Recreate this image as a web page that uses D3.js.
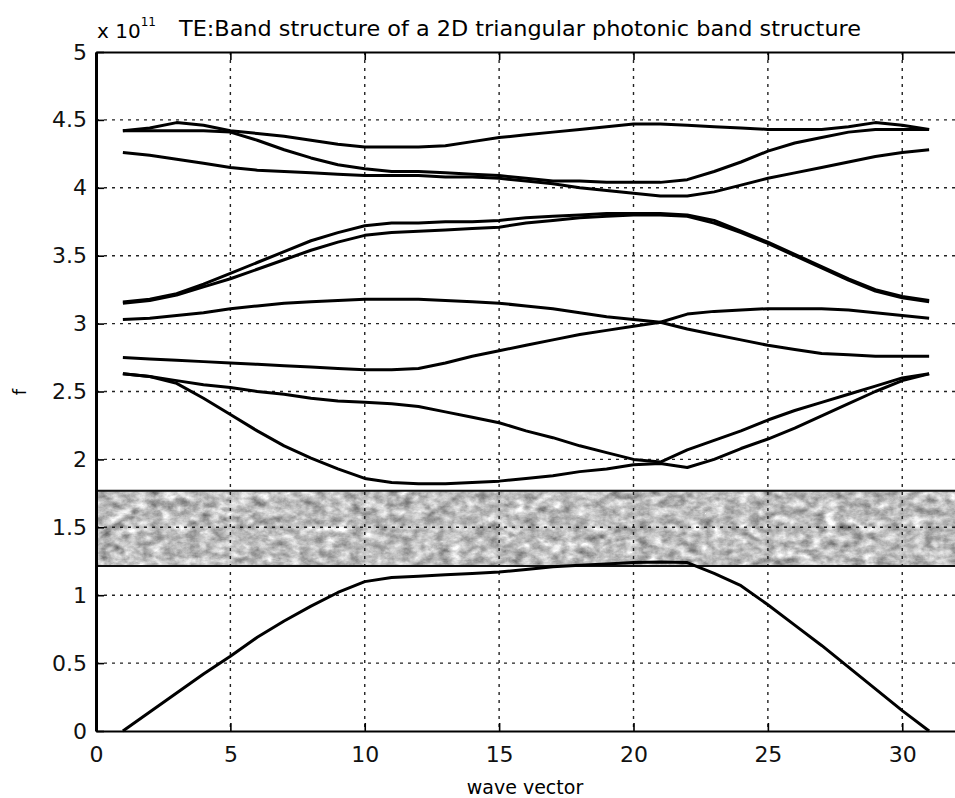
<!DOCTYPE html>
<html>
<head>
<meta charset="utf-8">
<script src="https://cdn.jsdelivr.net/npm/d3@7"></script>
<style>
body { margin: 0; background: #fff; }
svg { display: block; font-family: "DejaVu Sans", Arial, sans-serif; }
</style>
</head>
<body>
<svg id="band-graph" width="955" height="798"></svg>
<script>
// wave vector index (k points) and the 10 TE bands, f in units of 1e11
const waveVector = [1,2,3,4,5,6,7,8,9,10,11,12,13,14,15,16,17,18,19,20,21,22,23,24,25,26,27,28,29,30,31];

const band1  = [0, 0.14, 0.28, 0.42, 0.55, 0.69, 0.81, 0.92, 1.02, 1.10, 1.13, 1.14, 1.15, 1.16, 1.17, 1.19, 1.21, 1.22, 1.23, 1.24, 1.245, 1.24, 1.16, 1.07, 0.93, 0.78, 0.63, 0.47, 0.31, 0.15, 0];
const band2  = [2.63, 2.61, 2.56, 2.45, 2.33, 2.21, 2.10, 2.01, 1.93, 1.86, 1.83, 1.82, 1.82, 1.83, 1.84, 1.86, 1.88, 1.91, 1.93, 1.96, 1.97, 1.94, 2.00, 2.08, 2.15, 2.23, 2.32, 2.41, 2.50, 2.58, 2.63];
const band3  = [2.63, 2.61, 2.58, 2.55, 2.53, 2.50, 2.48, 2.45, 2.43, 2.42, 2.41, 2.39, 2.35, 2.31, 2.27, 2.21, 2.16, 2.10, 2.05, 2.00, 1.98, 2.07, 2.14, 2.21, 2.29, 2.36, 2.42, 2.48, 2.54, 2.60, 2.63];
const band4  = [2.75, 2.74, 2.73, 2.72, 2.71, 2.70, 2.69, 2.68, 2.67, 2.66, 2.66, 2.67, 2.71, 2.76, 2.80, 2.84, 2.88, 2.92, 2.95, 2.98, 3.01, 2.96, 2.92, 2.88, 2.84, 2.81, 2.78, 2.77, 2.76, 2.76, 2.76];
const band5  = [3.03, 3.04, 3.06, 3.08, 3.11, 3.13, 3.15, 3.16, 3.17, 3.18, 3.18, 3.18, 3.17, 3.16, 3.15, 3.13, 3.11, 3.08, 3.05, 3.03, 3.01, 3.07, 3.09, 3.10, 3.11, 3.11, 3.11, 3.10, 3.08, 3.06, 3.04];
const band6  = [3.15, 3.17, 3.21, 3.27, 3.33, 3.40, 3.47, 3.54, 3.60, 3.65, 3.67, 3.68, 3.69, 3.70, 3.71, 3.74, 3.76, 3.78, 3.79, 3.80, 3.80, 3.79, 3.74, 3.67, 3.59, 3.50, 3.41, 3.32, 3.24, 3.19, 3.16];
const band7  = [3.16, 3.18, 3.22, 3.29, 3.37, 3.45, 3.53, 3.61, 3.67, 3.72, 3.74, 3.74, 3.75, 3.75, 3.76, 3.78, 3.79, 3.80, 3.81, 3.81, 3.81, 3.80, 3.76, 3.68, 3.60, 3.51, 3.42, 3.33, 3.25, 3.20, 3.17];
const band8  = [4.26, 4.24, 4.21, 4.18, 4.15, 4.13, 4.12, 4.11, 4.10, 4.09, 4.09, 4.09, 4.08, 4.08, 4.07, 4.05, 4.03, 4.00, 3.98, 3.96, 3.94, 3.94, 3.97, 4.02, 4.07, 4.11, 4.15, 4.19, 4.23, 4.26, 4.28];
const band9  = [4.42, 4.42, 4.42, 4.42, 4.41, 4.35, 4.28, 4.22, 4.17, 4.14, 4.12, 4.12, 4.11, 4.10, 4.09, 4.07, 4.05, 4.05, 4.04, 4.04, 4.04, 4.06, 4.12, 4.19, 4.27, 4.33, 4.37, 4.41, 4.43, 4.43, 4.43];
const band10 = [4.42, 4.44, 4.48, 4.46, 4.42, 4.40, 4.38, 4.35, 4.32, 4.30, 4.30, 4.30, 4.31, 4.34, 4.37, 4.39, 4.41, 4.43, 4.45, 4.47, 4.47, 4.46, 4.45, 4.44, 4.43, 4.43, 4.43, 4.45, 4.48, 4.46, 4.43];

// photonic band gap (shaded strip)
const gapEdges = [1.215, 1.77];

const xTicks = [0, 5, 10, 15, 20, 25, 30];
const yTicks = [0, 0.5, 1, 1.5, 2, 2.5, 3, 3.5, 4, 4.5, 5];
const yTickLabels = ["0", "0.5", "1", "1.5", "2", "2.5", "3", "3.5", "4", "4.5", "5"];

const bands = [band1, band2, band3, band4, band5, band6, band7, band8, band9, band10];

const svg = d3.select('#band-graph');
const plotLeft = 96, plotTop = 52, plotRight = 956, plotBottom = 731;

const x = d3.scaleLinear().domain([0, 32]).range([plotLeft, plotRight]);
const y = d3.scaleLinear().domain([0, 5]).range([plotBottom, plotTop]);

// grainy fill for the gap strip
const defs = svg.append("defs");
const grain = defs.append("filter").attr("id", "grain")
    .attr("x", 0).attr("y", 0).attr("width", "100%").attr("height", "100%")
    .attr("color-interpolation-filters", "sRGB");
grain.append("feTurbulence").attr("type", "fractalNoise")
    .attr("baseFrequency", "0.08 0.12").attr("numOctaves", 5).attr("seed", 11);
grain.append("feColorMatrix").attr("type", "matrix")
    .attr("values", "0.42 0.42 0.42 0 0.11  0.42 0.42 0.42 0 0.11  0.42 0.42 0.42 0 0.11  0 0 0 0 1");

svg.append("rect")
    .attr("x", x(0)).attr("width", x(32) - x(0))
    .attr("y", y(gapEdges[1])).attr("height", y(gapEdges[0]) - y(gapEdges[1]))
    .attr("fill", "#bbb")
    .attr("filter", "url(#grain)");

// dotted grid
const grid = svg.append("g")
    .attr("stroke", "#222").attr("stroke-width", 1.4).attr("stroke-dasharray", "3,5");
grid.selectAll("line.gx")
    .data(xTicks.slice(1))
    .enter().append("line")
    .attr("x1", d => x(d)).attr("x2", d => x(d))
    .attr("y1", y(5)).attr("y2", y(0));
grid.selectAll("line.gy")
    .data(yTicks.slice(1, -1))
    .enter().append("line")
    .attr("x1", x(0)).attr("x2", x(32))
    .attr("y1", d => y(d)).attr("y2", d => y(d));

// gap edges
svg.selectAll("line.edge")
    .data(gapEdges)
    .enter().append("line")
    .attr("x1", x(0)).attr("x2", x(32))
    .attr("y1", d => y(d)).attr("y2", d => y(d))
    .attr("stroke", "#111").attr("stroke-width", 2);

// band curves
const line = d3.line()
    .x((d, i) => x(waveVector[i]))
    .y(d => y(d));
svg.append("g").selectAll("path")
    .data(bands)
    .enter().append("path")
    .attr("d", line)
    .attr("fill", "none")
    .attr("stroke", "#000")
    .attr("stroke-width", 3)
    .attr("stroke-linejoin", "round");

// axes (ticks pointing inward, MATLAB style)
const xAxis = svg.append("g")
    .attr("transform", "translate(0," + y(0) + ")")
    .call(d3.axisBottom(x).tickValues(xTicks).tickSizeInner(-8).tickSizeOuter(0).tickPadding(15));
const topAxis = svg.append("g")
    .attr("transform", "translate(0," + y(5) + ")")
    .call(d3.axisTop(x).tickValues(xTicks).tickSizeInner(-8).tickSizeOuter(0).tickFormat(""));
const yAxis = svg.append("g")
    .attr("transform", "translate(" + x(0) + ",0)")
    .call(d3.axisLeft(y).tickValues(yTicks).tickSizeInner(-8).tickSizeOuter(0).tickPadding(9)
        .tickFormat((d, i) => yTickLabels[i]));

[xAxis, topAxis, yAxis].forEach(function(g) {
    g.select(".domain").attr("stroke", "#000").attr("stroke-width", 2.2);
    g.selectAll(".tick line").attr("stroke", "#000").attr("stroke-width", 1.6);
    g.selectAll(".tick text").attr("fill", "#111").style("font-size", "22px")
        .style("font-family", "'DejaVu Sans', Arial, sans-serif");
});
yAxis.select(".domain").attr("stroke-width", 3);

// title and exponent
svg.append("text")
    .attr("x", 520).attr("y", 36)
    .attr("text-anchor", "middle")
    .style("font-size", "21px")
    .attr("textLength", 682).attr("lengthAdjust", "spacingAndGlyphs")
    .text("TE:Band structure of a 2D triangular photonic band structure");

const expo = svg.append("text")
    .attr("x", 97).attr("y", 38)
    .style("font-size", "20px");
expo.append("tspan").text("x 10");
expo.append("tspan").attr("dy", -12).style("font-size", "12px").text("11");

// axis labels
svg.append("text")
    .attr("x", 525).attr("y", 794)
    .attr("text-anchor", "middle")
    .style("font-size", "19px")
    .text("wave vector");

svg.append("text")
    .attr("transform", "translate(26,392) rotate(-90)")
    .attr("text-anchor", "middle")
    .style("font-size", "18px")
    .text("f");
</script>
</body>
</html>
